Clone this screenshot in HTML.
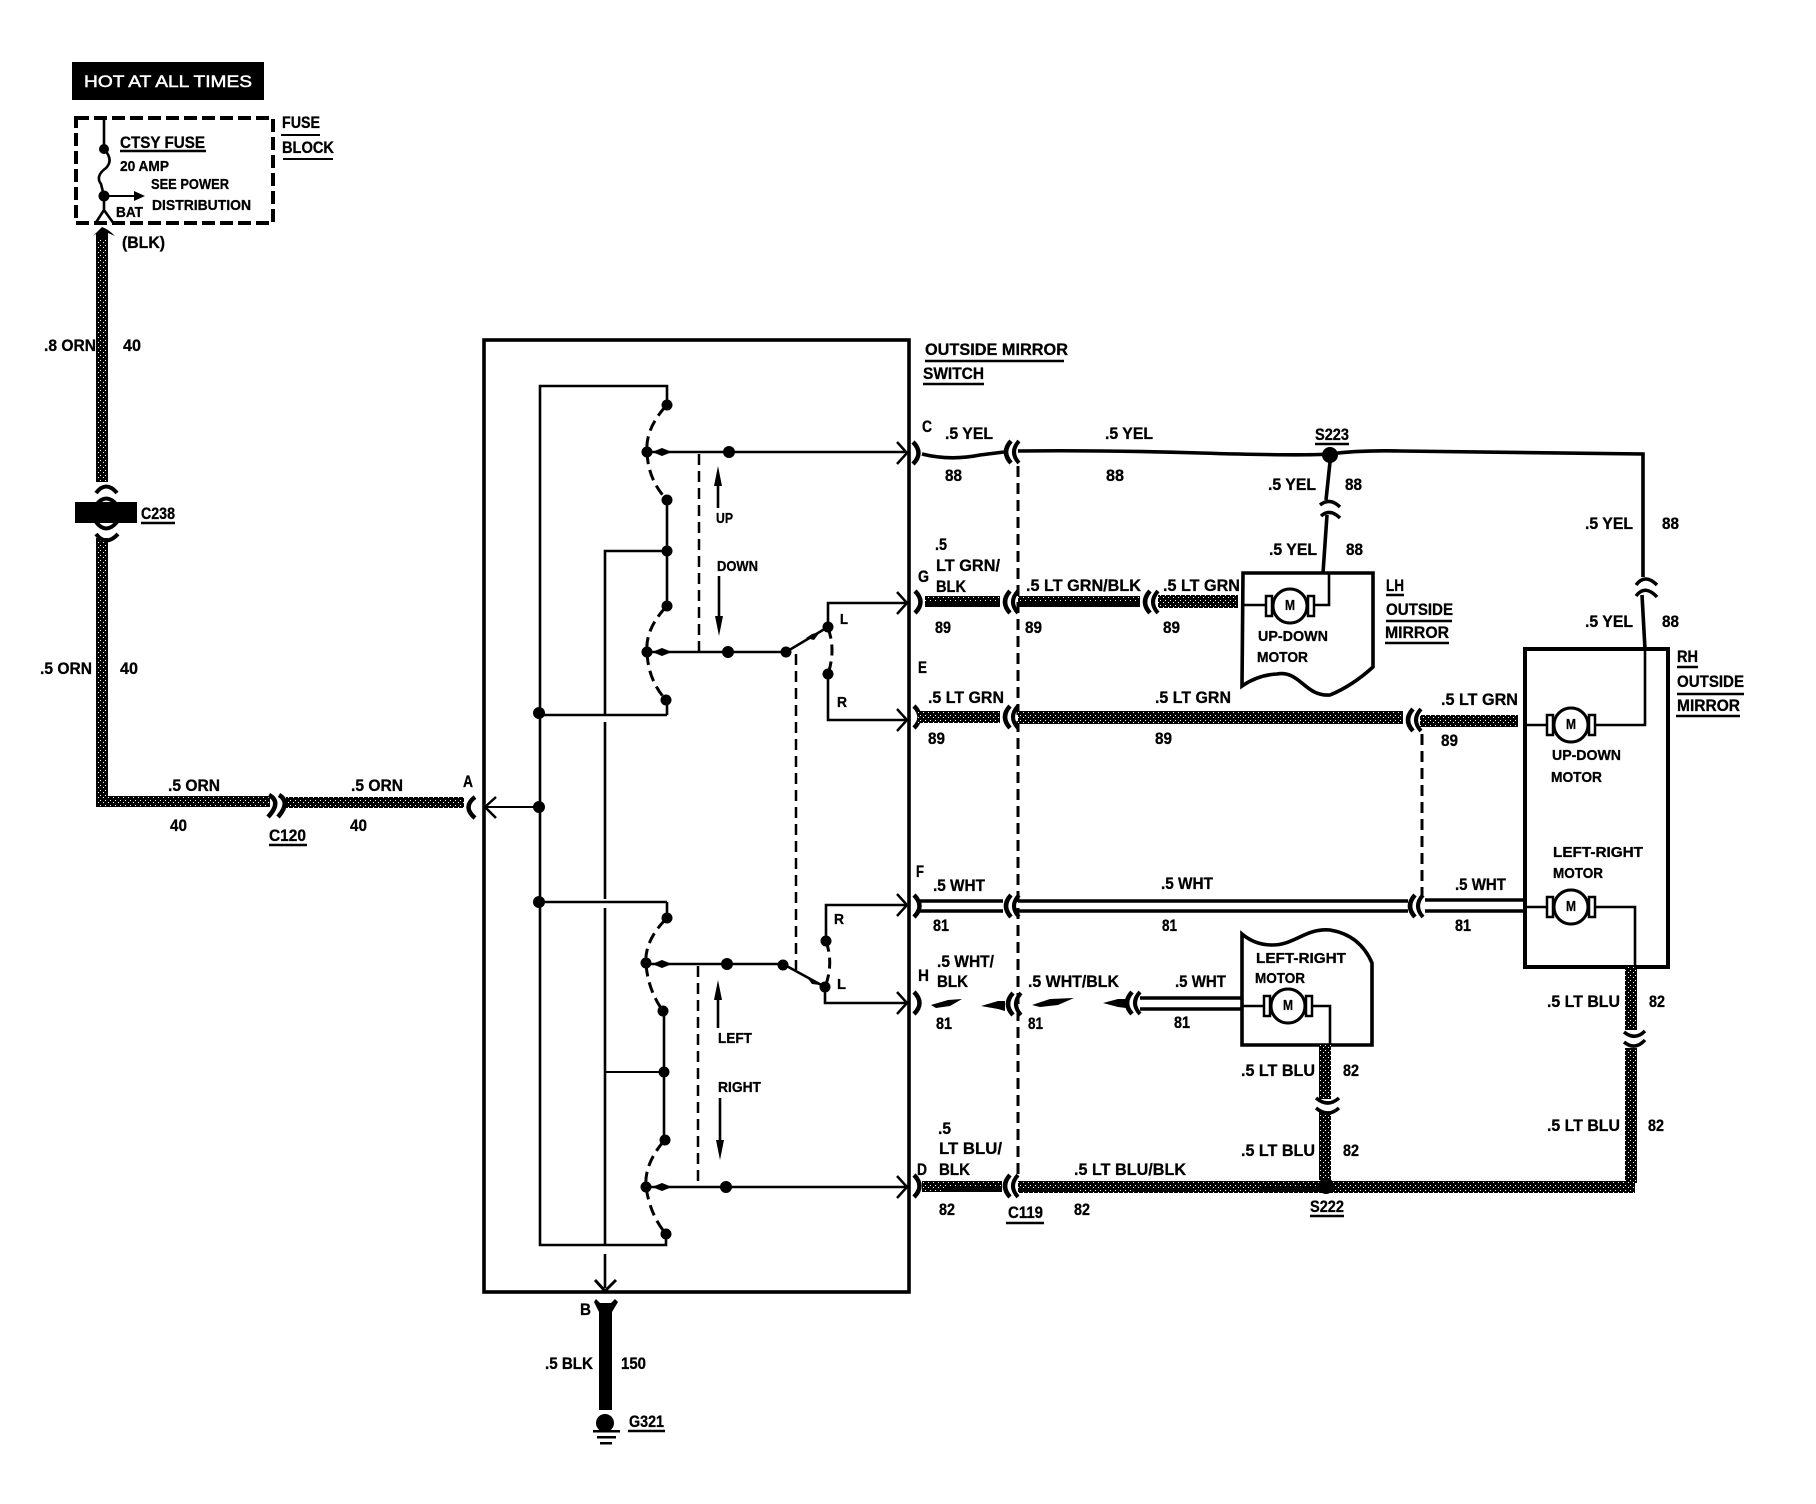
<!DOCTYPE html>
<html><head><meta charset="utf-8"><title>Outside mirror wiring diagram</title>
<style>
html,body{margin:0;padding:0;background:#fff;width:1816px;height:1504px;overflow:hidden}
svg{display:block}
text{font-family:"Liberation Sans",sans-serif;font-weight:bold;fill:#000;font-size:17px;stroke:#000;stroke-width:.3px;transform:translateY(-1px)}
.s{font-size:15px}
.w{fill:none;stroke:#000;stroke-width:2.6}
.f{fill:none;stroke:#000;stroke-width:3.4}
.t{fill:none;stroke:#000;stroke-width:2}
.b{fill:none;stroke:#000;stroke-width:3.6}
.d{fill:none;stroke:#000;stroke-width:3;stroke-dasharray:11 6}
.ds{fill:none;stroke:#000;stroke-width:2.5;stroke-dasharray:11 6}
</style></head><body>
<svg width="1816" height="1504" viewBox="0 0 1816 1504" xmlns="http://www.w3.org/2000/svg">
<defs>
<pattern id="st" width="5" height="5" patternUnits="userSpaceOnUse"><rect width="5" height="5" fill="#000"/><rect width="1" height="1" fill="#fff"/><rect x="3" y="2" width="1" height="1" fill="#fff"/></pattern>
<g id="cl"><path d="M7,-11 Q-3,0 7,11" fill="none" stroke="#000" stroke-width="4.5"/><path d="M15,-11 Q5,0 15,11" fill="none" stroke="#000" stroke-width="4"/></g>
<g id="cp"><path d="M0,-11 Q11,0 0,11" fill="none" stroke="#000" stroke-width="4.5"/></g>
<g id="ah"><path d="M-10,-11 L0,0 L-10,11" fill="none" stroke="#000" stroke-width="2.5"/></g>
<g id="mt"><circle r="17" fill="#fff" stroke="#000" stroke-width="3"/><rect x="-24" y="-10" width="6" height="20" fill="#fff" stroke="#000" stroke-width="2.5"/><rect x="18" y="-10" width="6" height="20" fill="#fff" stroke="#000" stroke-width="2.5"/><circle r="17" fill="#fff" stroke="#000" stroke-width="3"/></g>
</defs>
<rect width="1816" height="1504" fill="#fff"/>

<!-- fuse block -->
<rect x="72" y="62" width="192" height="38" fill="#000"/>
<text x="84" y="88" textLength="168" lengthAdjust="spacingAndGlyphs" style="fill:#fff;stroke:#fff;font-weight:normal;stroke-width:.5px">HOT AT ALL TIMES</text>
<rect x="76" y="118" width="197" height="105" fill="none" stroke="#000" stroke-width="4" stroke-dasharray="13 5"/>
<path class="w" d="M104,119 V149 Q114,160 106,168 Q95,176 101,184 L104,196 V210 L95,224 M104,210 L114,224"/>
<circle cx="104" cy="149" r="5"/><circle cx="104" cy="196" r="5.5"/>
<path class="t" d="M104,196 H136"/><polygon points="134,191 145,196 134,201"/>
<path d="M93,236 L102,227 Q108,229 115,236 L108,233 V240 H96 V234 Z"/>
<text x="120" y="149" textLength="85" lengthAdjust="spacingAndGlyphs">CTSY FUSE</text><path class="w" d="M120,151 H206"/>
<text class="s" x="120" y="172" textLength="49" lengthAdjust="spacingAndGlyphs">20 AMP</text>
<text class="s" x="151" y="190" textLength="78" lengthAdjust="spacingAndGlyphs">SEE POWER</text>
<text class="s" x="152" y="211" textLength="99" lengthAdjust="spacingAndGlyphs">DISTRIBUTION</text>
<text class="s" x="116" y="218" textLength="27" lengthAdjust="spacingAndGlyphs">BAT</text>
<text x="282" y="129" textLength="38" lengthAdjust="spacingAndGlyphs">FUSE</text><path class="t" d="M281,135 H320"/>
<text x="282" y="154" textLength="52" lengthAdjust="spacingAndGlyphs">BLOCK</text><path class="t" d="M283,159 H333"/>
<text x="122" y="249" textLength="43" lengthAdjust="spacingAndGlyphs">(BLK)</text>

<!-- orange wire -->
<rect x="96" y="238" width="12" height="244" fill="url(#st)"/>
<rect x="96" y="538" width="12" height="269" fill="url(#st)"/>
<rect x="96" y="796" width="174" height="11" fill="url(#st)"/>
<rect x="286" y="797" width="178" height="11" fill="url(#st)"/>
<text x="44" y="352" textLength="52" lengthAdjust="spacingAndGlyphs">.8 ORN</text><text x="123" y="352" textLength="18" lengthAdjust="spacingAndGlyphs">40</text>
<rect x="75" y="502" width="62" height="21"/>
<path d="M96,493 Q106,480 117,493 M96,505 Q106,492 117,505 M96,522 Q106,535 117,522 M96,534 Q106,547 118,534" fill="none" stroke="#000" stroke-width="4"/>
<text x="141" y="520" textLength="34" lengthAdjust="spacingAndGlyphs">C238</text><path class="w" d="M141,523 H175"/>
<text x="40" y="675" textLength="52" lengthAdjust="spacingAndGlyphs">.5 ORN</text><text x="120" y="675" textLength="18" lengthAdjust="spacingAndGlyphs">40</text>
<text x="168" y="792" textLength="52" lengthAdjust="spacingAndGlyphs">.5 ORN</text><text x="170" y="832" textLength="17" lengthAdjust="spacingAndGlyphs">40</text>
<text x="351" y="792" textLength="52" lengthAdjust="spacingAndGlyphs">.5 ORN</text><text x="350" y="832" textLength="17" lengthAdjust="spacingAndGlyphs">40</text>
<text x="269" y="842" textLength="37" lengthAdjust="spacingAndGlyphs">C120</text><path class="w" d="M269,845 H307"/>
<path d="M269,795 Q282,802 268,817 M279,795 Q291,802 278,817" fill="none" stroke="#000" stroke-width="4.5"/>
<path d="M475,797 Q462,807 475,818" fill="none" stroke="#000" stroke-width="4.5"/>
<text x="463" y="788" textLength="10" lengthAdjust="spacingAndGlyphs">A</text>

<!-- switch box -->
<rect x="484" y="340" width="425" height="952" fill="none" stroke="#000" stroke-width="3.6"/>
<path class="w" d="M667,405 V386 H540 V1245 H666 V1234"/>
<path class="w" d="M667,551 H605 V715 M605,722 V899 M605,908 V1246 M605,1254 V1288"/>
<path class="t" d="M605,1072 H664"/>
<path class="w" d="M667,715 H540 M667,715 V700 M667,902 H540 M667,902 V918"/>
<path class="t" d="M539,807 H486"/><path d="M496,797 L485,807 L496,818" fill="none" stroke="#000" stroke-width="2.5"/>
<path class="w" d="M667,500 V606 M664,1011 V1140"/>
<path class="d" d="M665,407 Q645,430 647,452 Q648,480 667,500"/>
<path class="d" d="M665,608 Q645,630 647,652 Q648,680 666,700"/>
<path class="d" d="M665,920 Q644,942 646,964 Q648,990 663,1011"/>
<path class="d" d="M663,1142 Q644,1165 646,1187 Q650,1215 666,1234"/>
<path class="w" d="M647,452 H906 M647,652 H786 L828,627 V603 H906 M828,674 V720 H906"/>
<path class="w" d="M646,964 H783 L825,987 V1003 H906 M826,941 V905 H906 M646,1187 H906"/>
<path class="d" d="M828,628 Q836,650 828,674"/>
<path class="d" d="M826,941 Q834,964 825,987"/>
<use href="#ah" x="907" y="453"/><use href="#ah" x="907" y="603"/><use href="#ah" x="907" y="720"/><use href="#ah" x="907" y="905"/><use href="#ah" x="907" y="1003"/><use href="#ah" x="907" y="1187"/>
<path d="M595,1280 L605,1291 L616,1280" fill="none" stroke="#000" stroke-width="3"/>
<path class="ds" d="M699,454 V652"/><path class="ds" d="M796,654 V970"/><path class="ds" d="M698,966 V1186"/>
<g>
<circle cx="667" cy="405" r="5.5"/><circle cx="647" cy="452" r="5.5"/><circle cx="667" cy="500" r="5.5"/><circle cx="667" cy="551" r="5.5"/><circle cx="667" cy="606" r="5.5"/><circle cx="647" cy="652" r="5.5"/><circle cx="666" cy="700" r="5.5"/><circle cx="539" cy="713" r="6"/><circle cx="539" cy="807" r="6"/><circle cx="539" cy="902" r="6"/><circle cx="667" cy="918" r="5.5"/><circle cx="646" cy="963" r="5.5"/><circle cx="663" cy="1011" r="5.5"/><circle cx="664" cy="1072" r="5.5"/><circle cx="665" cy="1140" r="5.5"/><circle cx="646" cy="1187" r="5.5"/><circle cx="666" cy="1234" r="5.5"/>
<circle cx="729" cy="452" r="6"/><circle cx="728" cy="652" r="6"/><circle cx="786" cy="652" r="5.5"/><circle cx="828" cy="627" r="5.5"/><circle cx="828" cy="674" r="5.5"/><circle cx="727" cy="964" r="6"/><circle cx="783" cy="965" r="5.5"/><circle cx="826" cy="941" r="5.5"/><circle cx="825" cy="987" r="5.5"/><circle cx="726" cy="1187" r="6"/>
<polygon points="652,452 662,448 672,452 662,456"/><polygon points="652,652 662,648 672,652 662,656"/><polygon points="652,964 662,960 672,964 662,968"/><polygon points="652,1187 662,1183 672,1187 662,1191"/>
<polygon points="806,638 812,634 820,632 814,640"/><polygon points="806,976 812,980 820,985 812,984"/>
</g>
<!-- direction arrows -->
<path class="w" d="M718,475 V508 M719,576 V628 M718,988 V1028 M720,1098 V1152"/>
<polygon points="718,466 714,486 722,486"/><polygon points="719,636 715,616 723,616"/><polygon points="718,980 714,1000 722,1000"/><polygon points="720,1160 716,1140 724,1140"/>
<text class="s" x="716" y="524" textLength="17" lengthAdjust="spacingAndGlyphs">UP</text>
<text class="s" x="717" y="572" textLength="41" lengthAdjust="spacingAndGlyphs">DOWN</text>
<text class="s" x="718" y="1044" textLength="34" lengthAdjust="spacingAndGlyphs">LEFT</text>
<text class="s" x="718" y="1093" textLength="43" lengthAdjust="spacingAndGlyphs">RIGHT</text>
<text class="s" x="840" y="625" textLength="8" lengthAdjust="spacingAndGlyphs">L</text>
<text class="s" x="837" y="708" textLength="10" lengthAdjust="spacingAndGlyphs">R</text>
<text class="s" x="834" y="925" textLength="10" lengthAdjust="spacingAndGlyphs">R</text>
<text class="s" x="837" y="990" textLength="9" lengthAdjust="spacingAndGlyphs">L</text>

<text x="925" y="356" textLength="143" lengthAdjust="spacingAndGlyphs">OUTSIDE MIRROR</text><path class="w" d="M925,361 H1064"/>
<text x="923" y="380" textLength="61" lengthAdjust="spacingAndGlyphs">SWITCH</text><path class="w" d="M923,384 H984"/>

<!-- dashed splices -->
<path class="d" d="M1018,466 V1177"/><path class="d" d="M1422,734 V895"/>

<!-- row C -->
<use href="#cp" x="913" y="453"/>
<path class="b" d="M922,454 Q950,461 980,455 L1004,452 M1018,451 Q1100,450 1200,453 T1330,454 Q1360,450 1400,451 T1643,454 V577 M1642,595 L1645,649 M1330,462 L1326,500 M1327,515 L1323,573"/>
<path class="w" d="M1645,649 V725 H1595"/>
<use href="#cl" x="1004" y="452"/>
<text x="922" y="433" textLength="10" lengthAdjust="spacingAndGlyphs">C</text>
<text x="945" y="440" textLength="48" lengthAdjust="spacingAndGlyphs">.5 YEL</text><text x="945" y="482" textLength="17" lengthAdjust="spacingAndGlyphs">88</text>
<text x="1105" y="440" textLength="48" lengthAdjust="spacingAndGlyphs">.5 YEL</text><text x="1106" y="482" textLength="18" lengthAdjust="spacingAndGlyphs">88</text>
<text x="1315" y="441" textLength="34" lengthAdjust="spacingAndGlyphs">S223</text><path class="w" d="M1315,444 H1349"/>
<circle cx="1330" cy="455" r="8"/>
<text x="1268" y="491" textLength="48" lengthAdjust="spacingAndGlyphs">.5 YEL</text><text x="1345" y="491" textLength="17" lengthAdjust="spacingAndGlyphs">88</text>
<text x="1269" y="556" textLength="48" lengthAdjust="spacingAndGlyphs">.5 YEL</text><text x="1346" y="556" textLength="17" lengthAdjust="spacingAndGlyphs">88</text>
<path d="M1320,505 Q1330,497 1340,507 M1321,516 Q1330,508 1340,518" fill="none" stroke="#000" stroke-width="3.5"/>
<path d="M1636,585 Q1645,573 1657,585 M1636,596 Q1645,584 1657,597" fill="none" stroke="#000" stroke-width="3.5"/>
<text x="1585" y="530" textLength="48" lengthAdjust="spacingAndGlyphs">.5 YEL</text><text x="1662" y="530" textLength="17" lengthAdjust="spacingAndGlyphs">88</text>
<text x="1585" y="628" textLength="48" lengthAdjust="spacingAndGlyphs">.5 YEL</text><text x="1662" y="628" textLength="17" lengthAdjust="spacingAndGlyphs">88</text>

<!-- row G -->
<use href="#cp" x="915" y="602"/>
<rect x="925" y="596" width="75" height="11" fill="url(#st)"/><rect x="925" y="602" width="75" height="5"/>
<use href="#cl" x="1003" y="602"/>
<rect x="1018" y="596" width="122" height="11" fill="url(#st)"/><rect x="1018" y="602" width="122" height="4"/>
<use href="#cl" x="1143" y="602"/>
<rect x="1158" y="595" width="80" height="13" fill="url(#st)"/>
<text x="935" y="551" textLength="12" lengthAdjust="spacingAndGlyphs">.5</text>
<text x="936" y="572" textLength="64" lengthAdjust="spacingAndGlyphs">LT GRN/</text>
<text x="936" y="593" textLength="30" lengthAdjust="spacingAndGlyphs">BLK</text>
<text x="918" y="583" textLength="11" lengthAdjust="spacingAndGlyphs">G</text>
<text x="935" y="634" textLength="16" lengthAdjust="spacingAndGlyphs">89</text>
<text x="1026" y="592" textLength="115" lengthAdjust="spacingAndGlyphs">.5 LT GRN/BLK</text><text x="1025" y="634" textLength="17" lengthAdjust="spacingAndGlyphs">89</text>
<text x="1163" y="592" textLength="77" lengthAdjust="spacingAndGlyphs">.5 LT GRN</text><text x="1163" y="634" textLength="17" lengthAdjust="spacingAndGlyphs">89</text>

<!-- LH up-down motor -->
<path class="b" d="M1243,573 H1373 V667 Q1352,686 1330,695 C1305,697 1300,670 1277,674 Q1258,675 1242,686 Z" style="fill:none"/>
<path class="w" d="M1243,605 H1268 M1312,605 H1329 V573"/>
<use href="#mt" x="1290" y="606"/>
<text class="s" x="1285" y="611" textLength="10" lengthAdjust="spacingAndGlyphs">M</text>
<text class="s" x="1258" y="642" textLength="70" lengthAdjust="spacingAndGlyphs">UP-DOWN</text>
<text class="s" x="1257" y="663" textLength="51" lengthAdjust="spacingAndGlyphs">MOTOR</text>
<text x="1386" y="592" textLength="18" lengthAdjust="spacingAndGlyphs">LH</text><path class="w" d="M1386,595 H1404"/>
<text x="1386" y="616" textLength="67" lengthAdjust="spacingAndGlyphs">OUTSIDE</text><path class="w" d="M1386,621 H1452"/>
<text x="1385" y="639" textLength="64" lengthAdjust="spacingAndGlyphs">MIRROR</text><path class="w" d="M1385,643 H1449"/>

<!-- row E -->
<use href="#cp" x="914" y="717"/>
<rect x="918" y="711" width="82" height="12" fill="url(#st)"/>
<use href="#cl" x="1003" y="717"/>
<rect x="1018" y="711" width="385" height="13" fill="url(#st)"/>
<use href="#cl" x="1406" y="720"/>
<rect x="1420" y="715" width="98" height="12" fill="url(#st)"/>
<text x="918" y="674" textLength="9" lengthAdjust="spacingAndGlyphs">E</text>
<text x="928" y="704" textLength="76" lengthAdjust="spacingAndGlyphs">.5 LT GRN</text><text x="928" y="745" textLength="17" lengthAdjust="spacingAndGlyphs">89</text>
<text x="1155" y="704" textLength="76" lengthAdjust="spacingAndGlyphs">.5 LT GRN</text><text x="1155" y="745" textLength="17" lengthAdjust="spacingAndGlyphs">89</text>
<text x="1441" y="706" textLength="77" lengthAdjust="spacingAndGlyphs">.5 LT GRN</text><text x="1441" y="747" textLength="17" lengthAdjust="spacingAndGlyphs">89</text>

<!-- RH mirror -->
<rect x="1525" y="649" width="143" height="318" fill="none" stroke="#000" stroke-width="4"/>
<path class="w" d="M1525,725 H1548 M1525,907 H1548 M1594,907 H1635 V967"/>
<use href="#mt" x="1571" y="725"/><use href="#mt" x="1571" y="907"/>
<text class="s" x="1566" y="730" textLength="10" lengthAdjust="spacingAndGlyphs">M</text>
<text class="s" x="1566" y="912" textLength="10" lengthAdjust="spacingAndGlyphs">M</text>
<text class="s" x="1552" y="761" textLength="69" lengthAdjust="spacingAndGlyphs">UP-DOWN</text>
<text class="s" x="1551" y="783" textLength="51" lengthAdjust="spacingAndGlyphs">MOTOR</text>
<text class="s" x="1553" y="858" textLength="90" lengthAdjust="spacingAndGlyphs">LEFT-RIGHT</text>
<text class="s" x="1553" y="879" textLength="50" lengthAdjust="spacingAndGlyphs">MOTOR</text>
<text x="1677" y="663" textLength="21" lengthAdjust="spacingAndGlyphs">RH</text><path class="w" d="M1677,667 H1698"/>
<text x="1677" y="688" textLength="67" lengthAdjust="spacingAndGlyphs">OUTSIDE</text><path class="w" d="M1677,694 H1744"/>
<text x="1677" y="712" textLength="63" lengthAdjust="spacingAndGlyphs">MIRROR</text><path class="w" d="M1676,716 H1740"/>

<!-- row F -->
<use href="#cp" x="914" y="906"/>
<path class="f" d="M918,901 H1003 M918,911 H1003 M1018,901 H1408 M1018,911 H1408 M1425,900 H1525 M1425,911 H1525"/>
<use href="#cl" x="1004" y="906"/>
<use href="#cl" x="1408" y="906"/>
<text x="916" y="878" textLength="8" lengthAdjust="spacingAndGlyphs">F</text>
<text x="933" y="892" textLength="52" lengthAdjust="spacingAndGlyphs">.5 WHT</text><text x="933" y="932" textLength="16" lengthAdjust="spacingAndGlyphs">81</text>
<text x="1161" y="890" textLength="52" lengthAdjust="spacingAndGlyphs">.5 WHT</text><text x="1162" y="932" textLength="15" lengthAdjust="spacingAndGlyphs">81</text>
<text x="1455" y="891" textLength="51" lengthAdjust="spacingAndGlyphs">.5 WHT</text><text x="1455" y="932" textLength="16" lengthAdjust="spacingAndGlyphs">81</text>

<!-- row H -->
<use href="#cp" x="914" y="1003"/>
<polygon points="931,1005 948,1000 962,999 950,1006 936,1008"/>
<polygon points="981,1006 998,1001 1005,1001 1005,1011 998,1009"/>
<use href="#cl" x="1006" y="1004"/>
<polygon points="1032,1005 1050,999 1074,998 1058,1005 1040,1007"/>
<polygon points="1103,1003 1118,999 1126,999 1126,1008 1118,1007"/>
<use href="#cl" x="1125" y="1003"/>
<path class="f" d="M1140,998 H1242 M1140,1009 H1242"/>
<text x="918" y="982" textLength="11" lengthAdjust="spacingAndGlyphs">H</text>
<text x="937" y="968" textLength="57" lengthAdjust="spacingAndGlyphs">.5 WHT/</text><text x="937" y="988" textLength="31" lengthAdjust="spacingAndGlyphs">BLK</text>
<text x="936" y="1030" textLength="16" lengthAdjust="spacingAndGlyphs">81</text>
<text x="1028" y="988" textLength="91" lengthAdjust="spacingAndGlyphs">.5 WHT/BLK</text><text x="1028" y="1030" textLength="15" lengthAdjust="spacingAndGlyphs">81</text>
<text x="1175" y="988" textLength="51" lengthAdjust="spacingAndGlyphs">.5 WHT</text><text x="1174" y="1029" textLength="16" lengthAdjust="spacingAndGlyphs">81</text>

<!-- LH left-right motor -->
<path class="b" d="M1242,934 Q1255,945 1272,945 C1295,945 1305,928 1330,930 Q1360,935 1372,963 V1045 H1242 Z"/>
<path class="w" d="M1242,1006 H1266 M1311,1006 H1330 V1045"/>
<use href="#mt" x="1288" y="1006"/>
<text class="s" x="1283" y="1011" textLength="10" lengthAdjust="spacingAndGlyphs">M</text>
<text class="s" x="1256" y="964" textLength="90" lengthAdjust="spacingAndGlyphs">LEFT-RIGHT</text>
<text class="s" x="1255" y="984" textLength="50" lengthAdjust="spacingAndGlyphs">MOTOR</text>

<!-- row D and lt blu -->
<use href="#cp" x="914" y="1186"/>
<rect x="922" y="1181" width="80" height="11" fill="url(#st)"/><rect x="945" y="1187" width="57" height="4"/>
<use href="#cl" x="1003" y="1186"/>
<rect x="1018" y="1181" width="617" height="12" fill="url(#st)"/><rect x="1018" y="1188" width="60" height="4"/><rect x="1135" y="1188" width="60" height="4"/><rect x="1260" y="1187" width="70" height="5"/>
<circle cx="1326" cy="1186" r="8"/>
<rect x="1319" y="1045" width="12" height="54" fill="url(#st)"/>
<rect x="1319" y="1112" width="12" height="68" fill="url(#st)"/>
<path d="M1316,1098 Q1328,1108 1339,1098 M1316,1108 Q1328,1118 1339,1108" fill="none" stroke="#000" stroke-width="3.5"/>
<rect x="1625" y="967" width="12" height="63" fill="url(#st)"/>
<rect x="1625" y="1048" width="12" height="135" fill="url(#st)"/>
<path d="M1624,1032 Q1635,1041 1645,1031 M1624,1042 Q1635,1051 1645,1040" fill="none" stroke="#000" stroke-width="3.5"/>
<text x="917" y="1176" textLength="10" lengthAdjust="spacingAndGlyphs">D</text>
<text x="938" y="1135" textLength="13" lengthAdjust="spacingAndGlyphs">.5</text>
<text x="939" y="1155" textLength="63" lengthAdjust="spacingAndGlyphs">LT BLU/</text>
<text x="939" y="1176" textLength="31" lengthAdjust="spacingAndGlyphs">BLK</text>
<text x="939" y="1216" textLength="16" lengthAdjust="spacingAndGlyphs">82</text>
<text x="1074" y="1176" textLength="112" lengthAdjust="spacingAndGlyphs">.5 LT BLU/BLK</text>
<text x="1074" y="1216" textLength="16" lengthAdjust="spacingAndGlyphs">82</text>
<text x="1008" y="1219" textLength="35" lengthAdjust="spacingAndGlyphs">C119</text><path class="w" d="M1006,1223 H1044"/>
<text x="1310" y="1213" textLength="34" lengthAdjust="spacingAndGlyphs">S222</text><path class="w" d="M1310,1216 H1344"/>
<text x="1241" y="1077" textLength="74" lengthAdjust="spacingAndGlyphs">.5 LT BLU</text><text x="1343" y="1077" textLength="16" lengthAdjust="spacingAndGlyphs">82</text>
<text x="1241" y="1157" textLength="74" lengthAdjust="spacingAndGlyphs">.5 LT BLU</text><text x="1343" y="1157" textLength="16" lengthAdjust="spacingAndGlyphs">82</text>
<text x="1547" y="1008" textLength="73" lengthAdjust="spacingAndGlyphs">.5 LT BLU</text><text x="1649" y="1008" textLength="16" lengthAdjust="spacingAndGlyphs">82</text>
<text x="1547" y="1132" textLength="73" lengthAdjust="spacingAndGlyphs">.5 LT BLU</text><text x="1648" y="1132" textLength="16" lengthAdjust="spacingAndGlyphs">82</text>

<!-- ground -->
<path d="M596,1299 L600,1303 H611 L615,1299 L618,1302 L612,1312 V1410 H599 V1312 L594,1302 Z"/>
<text x="580" y="1316" textLength="11" lengthAdjust="spacingAndGlyphs">B</text>
<text x="545" y="1370" textLength="48" lengthAdjust="spacingAndGlyphs">.5 BLK</text><text x="621" y="1370" textLength="25" lengthAdjust="spacingAndGlyphs">150</text>
<circle cx="605" cy="1423" r="9"/>
<rect x="593" y="1430" width="27" height="2.5"/><rect x="597" y="1436" width="19" height="2.5"/><rect x="600" y="1442" width="12" height="2.5"/>
<text x="629" y="1428" textLength="35" lengthAdjust="spacingAndGlyphs">G321</text><path class="w" d="M628,1431 H665"/>
</svg>
</body></html>
